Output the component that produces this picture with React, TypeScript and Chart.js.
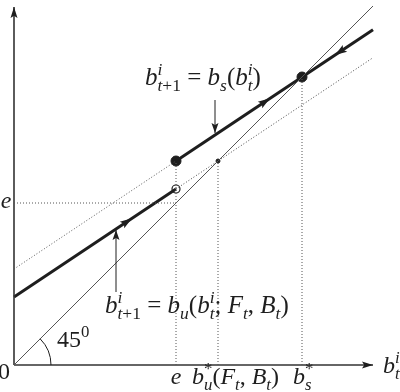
import React, { useEffect, useRef } from "react";
import { Chart, registerables } from "chart.js";

Chart.register(...registerables);

// ---- data (units: same scale on both axes) ----
const AXIS_MAX = 359;

const axisX = [{ x: 0, y: 0 }, { x: 359, y: 0 }];
const axisY = [{ x: 0, y: 0 }, { x: 0, y: 358 }];
const diagonal = [{ x: 0, y: 0 }, { x: 359, y: 359 }];
const buSolid = [{ x: 0, y: 68 }, { x: 162, y: 176 }];
const buDotted = [{ x: 162, y: 176 }, { x: 359, y: 307.3 }];
const bsSolid = [{ x: 162, y: 204 }, { x: 359, y: 335.3 }];
const bsDotted = [{ x: 0, y: 96 }, { x: 162, y: 204 }];
const guideE = [{ x: 162, y: 0 }, { x: 162, y: 204 }];
const guideBu = [{ x: 204, y: 0 }, { x: 204, y: 204 }];
const guideBs = [{ x: 288, y: 0 }, { x: 288, y: 288 }];
const guideEh = [{ x: 0, y: 162 }, { x: 162, y: 162 }];
const filledDots = [{ x: 162, y: 204 }, { x: 288, y: 288 }];
const openDots = [{ x: 162, y: 176 }];
const smallDots = [{ x: 204, y: 204 }];

// arrows along lines: [x, y, dirX, dirY] in data units
const lineArrows = [
  [118, 146.7, 3, 2],
  [256, 266.7, 3, 2],
  [321, 310, -3, -2],
];
// annotation pointers: [x, yFrom, yTo]
const pointers = [
  [201, 265, 232],
  [102, 73, 135],
];

type Part = { s: string; it?: boolean; k?: "n" | "sup" | "sub"; stack?: boolean };

const labelUpper: Part[] = [
  { s: "b", it: true }, { s: "i", it: true, k: "sup" }, { s: "t", it: true, k: "sub", stack: true }, { s: "+1", k: "sub" },
  { s: " = " }, { s: "b", it: true }, { s: "s", it: true, k: "sub" }, { s: "(" },
  { s: "b", it: true }, { s: "i", it: true, k: "sup" }, { s: "t", it: true, k: "sub", stack: true }, { s: ")" },
];
const labelLower: Part[] = [
  { s: "b", it: true }, { s: "i", it: true, k: "sup" }, { s: "t", it: true, k: "sub", stack: true }, { s: "+1", k: "sub" },
  { s: " = " }, { s: "b", it: true }, { s: "u", it: true, k: "sub" }, { s: "(" },
  { s: "b", it: true }, { s: "i", it: true, k: "sup" }, { s: "t", it: true, k: "sub", stack: true }, { s: "; " },
  { s: "F", it: true }, { s: "t", it: true, k: "sub" }, { s: ", " },
  { s: "B", it: true }, { s: "t", it: true, k: "sub" }, { s: ")" },
];
const labelE: Part[] = [{ s: "e", it: true }];
const labelBu: Part[] = [
  { s: "b", it: true }, { s: "*", k: "sup" }, { s: "u", it: true, k: "sub", stack: true }, { s: "(" },
  { s: "F", it: true }, { s: "t", it: true, k: "sub" }, { s: ", " },
  { s: "B", it: true }, { s: "t", it: true, k: "sub" }, { s: ")" },
];
const labelBs: Part[] = [{ s: "b", it: true }, { s: "*", k: "sup" }, { s: "s", it: true, k: "sub", stack: true }];
const labelXAxis: Part[] = [{ s: "b", it: true }, { s: "i", it: true, k: "sup" }, { s: "t", it: true, k: "sub", stack: true }];
const labelAngle: Part[] = [{ s: "45" }, { s: "0", k: "sup" }];
const labelZero: Part[] = [{ s: "0" }];

// [parts, x, y, align, size] - x/y in data units, y is baseline
const textItems: [Part[], number, number, "left" | "center", number][] = [
  [labelUpper, 131, 280, "left", 25],
  [labelLower, 91, 52, "left", 25],
  [labelE, 162, -19, "center", 24],
  [labelBu, 178, -19, "left", 24],
  [labelBs, 279, -19, "left", 24],
  [labelE, -8, 157, "center", 24],
  [labelZero, -10, -14, "center", 24],
  [labelXAxis, 369, -8, "left", 24],
  [labelAngle, 43, 18, "left", 24],
];

const FONT = '"Liberation Serif", "Times New Roman", serif';
const INK = "#1e1e1e";

function layoutMath(ctx: CanvasRenderingContext2D, parts: Part[], size: number, x: number, y: number, draw: boolean) {
  let cx = x;
  let supStart = x;
  let supEnd = x;
  for (const p of parts) {
    const k = p.k || "n";
    const sz = k === "n" ? size : size * 0.7;
    const dy = k === "sup" ? -size * 0.4 : k === "sub" ? size * 0.24 : 0;
    ctx.font = `${p.it ? "italic " : ""}${sz}px ${FONT}`;
    if (k === "n") cx = Math.max(cx, supEnd);
    const sx = p.stack ? supStart : cx;
    if (draw) ctx.fillText(p.s, sx, y + dy);
    const w = ctx.measureText(p.s).width;
    cx = sx + w;
    if (k === "sup") {
      supStart = sx;
      supEnd = sx + w;
    }
    if (k === "n") supEnd = cx;
  }
  return Math.max(cx, supEnd) - x;
}

function arrowHead(ctx: CanvasRenderingContext2D, tx: number, ty: number, ang: number, len = 10, half = 3.5) {
  ctx.save();
  ctx.translate(tx, ty);
  ctx.rotate(ang);
  ctx.beginPath();
  ctx.moveTo(0, 0);
  ctx.lineTo(-len, -half);
  ctx.lineTo(-len * 0.8, 0);
  ctx.lineTo(-len, half);
  ctx.closePath();
  ctx.fill();
  ctx.restore();
}

const decorPlugin = {
  id: "decor",
  afterDatasetsDraw(chart: any) {
    const ctx: CanvasRenderingContext2D = chart.ctx;
    const xs = chart.scales.x;
    const ys = chart.scales.y;
    const px = (v: number) => xs.getPixelForValue(v);
    const py = (v: number) => ys.getPixelForValue(v);
    ctx.save();
    ctx.fillStyle = INK;
    ctx.strokeStyle = INK;

    arrowHead(ctx, px(axisX[1].x), py(axisX[1].y), 0, 11, 3.5);
    arrowHead(ctx, px(axisY[1].x), py(axisY[1].y), -Math.PI / 2, 11, 3.5);

    for (const [x, y, dx, dy] of lineArrows) {
      const x0 = px(x), y0 = py(y);
      const ang = Math.atan2(py(y + dy) - y0, px(x + dx) - x0);
      arrowHead(ctx, x0, y0, ang, 12, 4);
    }

    ctx.lineWidth = 1;
    for (const [x, y1, y2] of pointers) {
      ctx.beginPath();
      ctx.moveTo(px(x), py(y1));
      ctx.lineTo(px(x), py(y2));
      ctx.stroke();
      arrowHead(ctx, px(x), py(y2), y2 < y1 ? Math.PI / 2 : -Math.PI / 2, 10, 3.5);
    }

    const r = px(37) - px(0);
    ctx.lineWidth = 1;
    ctx.beginPath();
    ctx.arc(px(0), py(0), r, -Math.PI / 4, 0);
    ctx.stroke();

    ctx.textBaseline = "alphabetic";
    ctx.textAlign = "left";
    for (const [parts, x, y, align, size] of textItems) {
      const w = layoutMath(ctx, parts, size, 0, 0, false);
      let sx = px(x);
      if (align === "center") sx -= w / 2;
      layoutMath(ctx, parts, size, sx, py(y), true);
    }
    ctx.restore();
  },
};

const line = (data: any[], width: number, color: string, dash: number[] = []) => ({
  type: "line" as const,
  data,
  borderColor: color,
  borderWidth: width,
  borderDash: dash,
  pointRadius: 0,
  showLine: true,
  fill: false,
  tension: 0,
  clip: false as any,
  borderCapStyle: "butt" as const,
});

export default function App() {
  const ref = useRef<HTMLCanvasElement>(null);
  useEffect(() => {
    if (!ref.current) return;
    const dotted = [1, 2];
    const chart = new Chart(ref.current, {
      type: "scatter",
      data: {
        datasets: [
          line(guideE, 1, "#555", dotted),
          line(guideBu, 1, "#555", dotted),
          line(guideBs, 1, "#555", dotted),
          line(guideEh, 1, "#555", dotted),
          line(bsDotted, 1, "#555", dotted),
          line(buDotted, 1, "#444", dotted),
          line(diagonal, 1, "#555"),
          line(axisX, 1.6, "#333"),
          line(axisY, 1.6, "#333"),
          line(buSolid, 3, INK),
          line(bsSolid, 3, INK),
          {
            type: "scatter" as const,
            data: filledDots,
            pointRadius: 5,
            pointBackgroundColor: INK,
            pointBorderColor: INK,
            showLine: false,
            clip: false as any,
          },
          {
            type: "scatter" as const,
            data: openDots,
            pointRadius: 4,
            pointBackgroundColor: "#fff",
            pointBorderColor: INK,
            pointBorderWidth: 1.2,
            showLine: false,
            clip: false as any,
          },
          {
            type: "scatter" as const,
            data: smallDots,
            pointRadius: 2,
            pointBackgroundColor: INK,
            pointBorderColor: INK,
            showLine: false,
            clip: false as any,
          },
        ] as any,
      },
      options: {
        responsive: false,
        animation: false,
        devicePixelRatio: 1,
        layout: { padding: { left: 14, top: 6, right: 27, bottom: 27 } },
        plugins: { legend: { display: false }, tooltip: { enabled: false } },
        events: [],
        scales: {
          x: { type: "linear", min: 0, max: AXIS_MAX, display: false },
          y: { type: "linear", min: 0, max: AXIS_MAX, display: false },
        },
      },
      plugins: [decorPlugin],
    });
    let alive = true;
    const fonts: any = (document as any).fonts;
    if (fonts && fonts.load) {
      Promise.all([
        fonts.load('italic 25px "Liberation Serif"'),
        fonts.load('25px "Liberation Serif"'),
      ]).then(() => {
        if (alive) chart.draw();
      }).catch(() => {});
    }
    return () => {
      alive = false;
      chart.destroy();
    };
  }, []);
  return (
    <div style={{ position: "fixed", left: 0, top: 0, width: 400, height: 392, background: "#fff" }}>
      <canvas ref={ref} width={400} height={392} style={{ width: 400, height: 392, display: "block" }} />
    </div>
  );
}
